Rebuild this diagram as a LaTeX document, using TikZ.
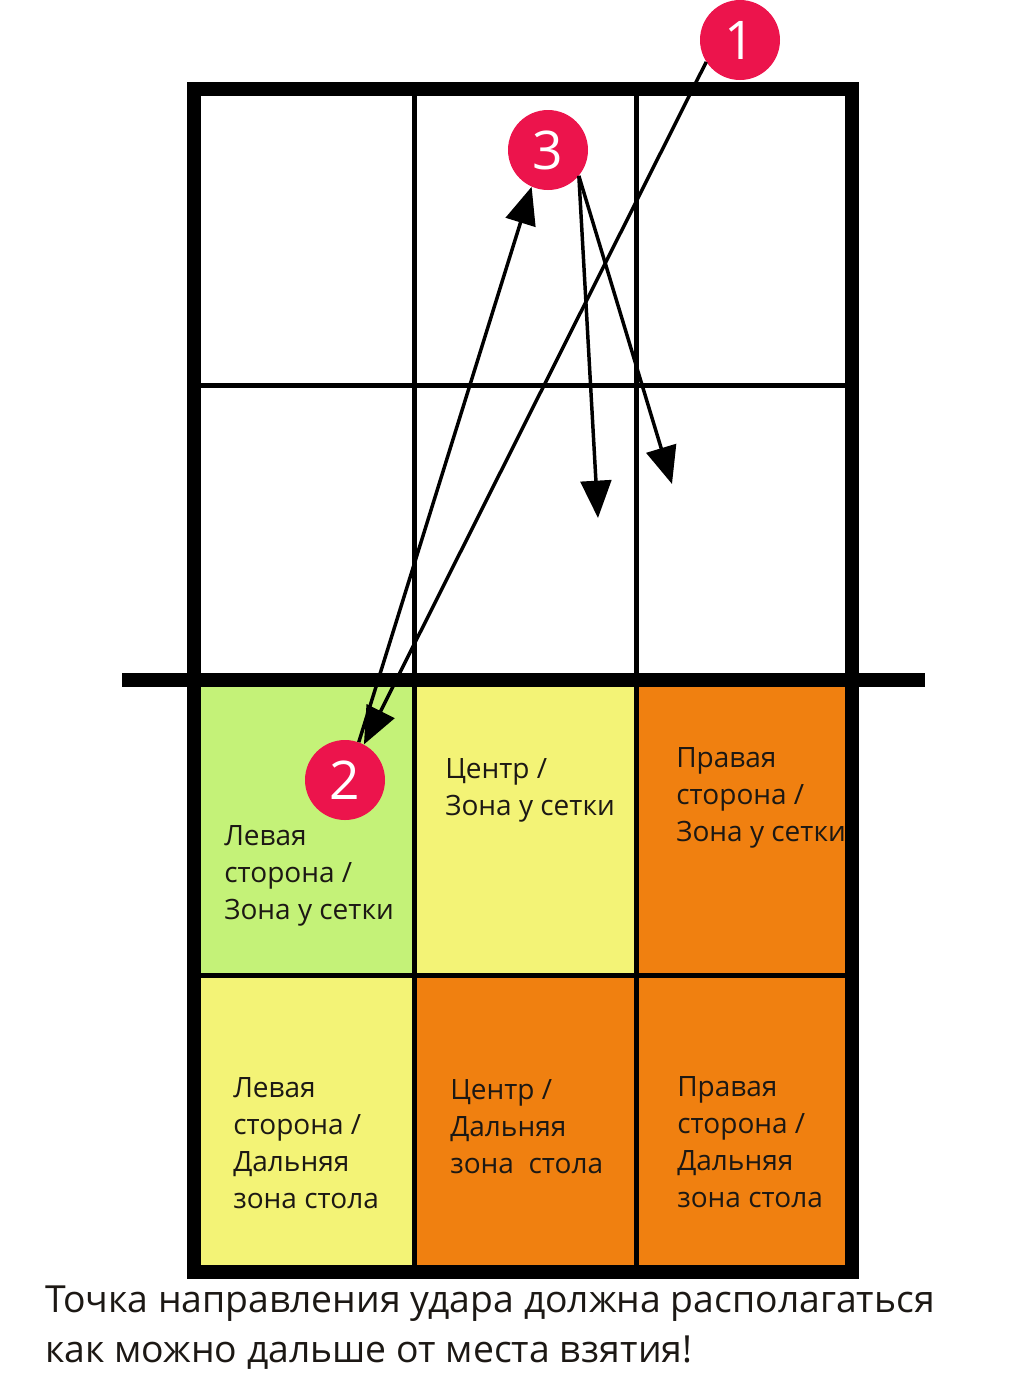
\documentclass[tikz,border=0pt]{standalone}
\usepackage{fontspec}
\setmainfont{Open Sans}
\usetikzlibrary{arrows.meta}
\definecolor{zonegreen}{RGB}{196,242,120}
\definecolor{zoneyellow}{RGB}{243,243,118}
\definecolor{zoneorange}{RGB}{240,128,16}
\definecolor{ballred}{RGB}{236,20,76}
\definecolor{inkgray}{RGB}{28,24,20}
\def\zonefont{\fontsize{21pt}{27.75pt}\selectfont}
\def\capfont{\fontsize{28pt}{37.5pt}\selectfont}

\begin{document}
\begin{tikzpicture}[x=0.75pt,y=-0.75pt,
		ball/.style={circle,fill=ballred,minimum size=60pt,inner sep=0pt,text=white,font=\fontsize{40pt}{40pt}\selectfont},
		zone/.style={anchor=north west,inner sep=0pt,align=left,text=inkgray,font=\zonefont},
		shot/.style={line width=2.6pt,-{Triangle[length=28pt,width=23pt]}}]
			%%%%% START %%%%%
			\useasboundingbox[fill=white] (0,0) rectangle (1024,1386);
			
			\fill[zonegreen] (194,680) rectangle (414,975);
			\fill[zoneyellow] (414,680) rectangle (636,975);
			\fill[zoneorange] (636,680) rectangle (852,975);
			\fill[zoneyellow] (194,975) rectangle (414,1272);
			\fill[zoneorange] (414,975) rectangle (852,1272);
			
			\draw[line width=3.75pt] (414,89) -- (414,1272);
			\draw[line width=3.75pt] (636,89) -- (636,1272);
			\draw[line width=3.75pt] (194,385) -- (852,385);
			\draw[line width=3.75pt] (194,975) -- (852,975);
			\draw[line width=10pt] (122,680) -- (925,680);
			\draw[line width=10.5pt] (194,89) rectangle (852,1272);
			
			\node[zone] (lnear) at (224,825) {Левая\\сторона /\\Зона у сетки};
			\node[zone] (cnear) at (445,758) {Центр /\\Зона у сетки};
			\node[zone] (rnear) at (676,747) {Правая\\сторона /\\Зона у сетки};
			\node[zone] (lfar) at (233,1077) {Левая\\сторона /\\Дальняя\\зона стола};
			\node[zone] (cfar) at (450,1079) {Центр /\\Дальняя\\зона\ \ стола};
			\node[zone] (rfar) at (677,1076) {Правая\\сторона /\\Дальняя\\зона стола};
			
			\node[ball] (b1) at (740,40) {1};
			\node[ball] (b3) at (548,150) {3};
			\node[ball] (b2) at (345,780) {2};
			
			\coordinate (d1) at (598,518);
			\coordinate (d2) at (672,484);
			
			\draw[shot] (b1.213) -- (b2.62);
			\draw[shot] (b2.70) -- (b3.246);
			\draw[shot] (b3.-40) -- (d1);
			\draw[shot] (b3.-40) -- (d2);
			
			\node[anchor=north west,inner sep=0pt,align=left,text=inkgray,font=\capfont] (note) at (45,1286) {Точка направления удара должна располагаться\\как можно дальше от места взятия!};
			%%%%% END %%%%%
\end{tikzpicture}
\end{document}
